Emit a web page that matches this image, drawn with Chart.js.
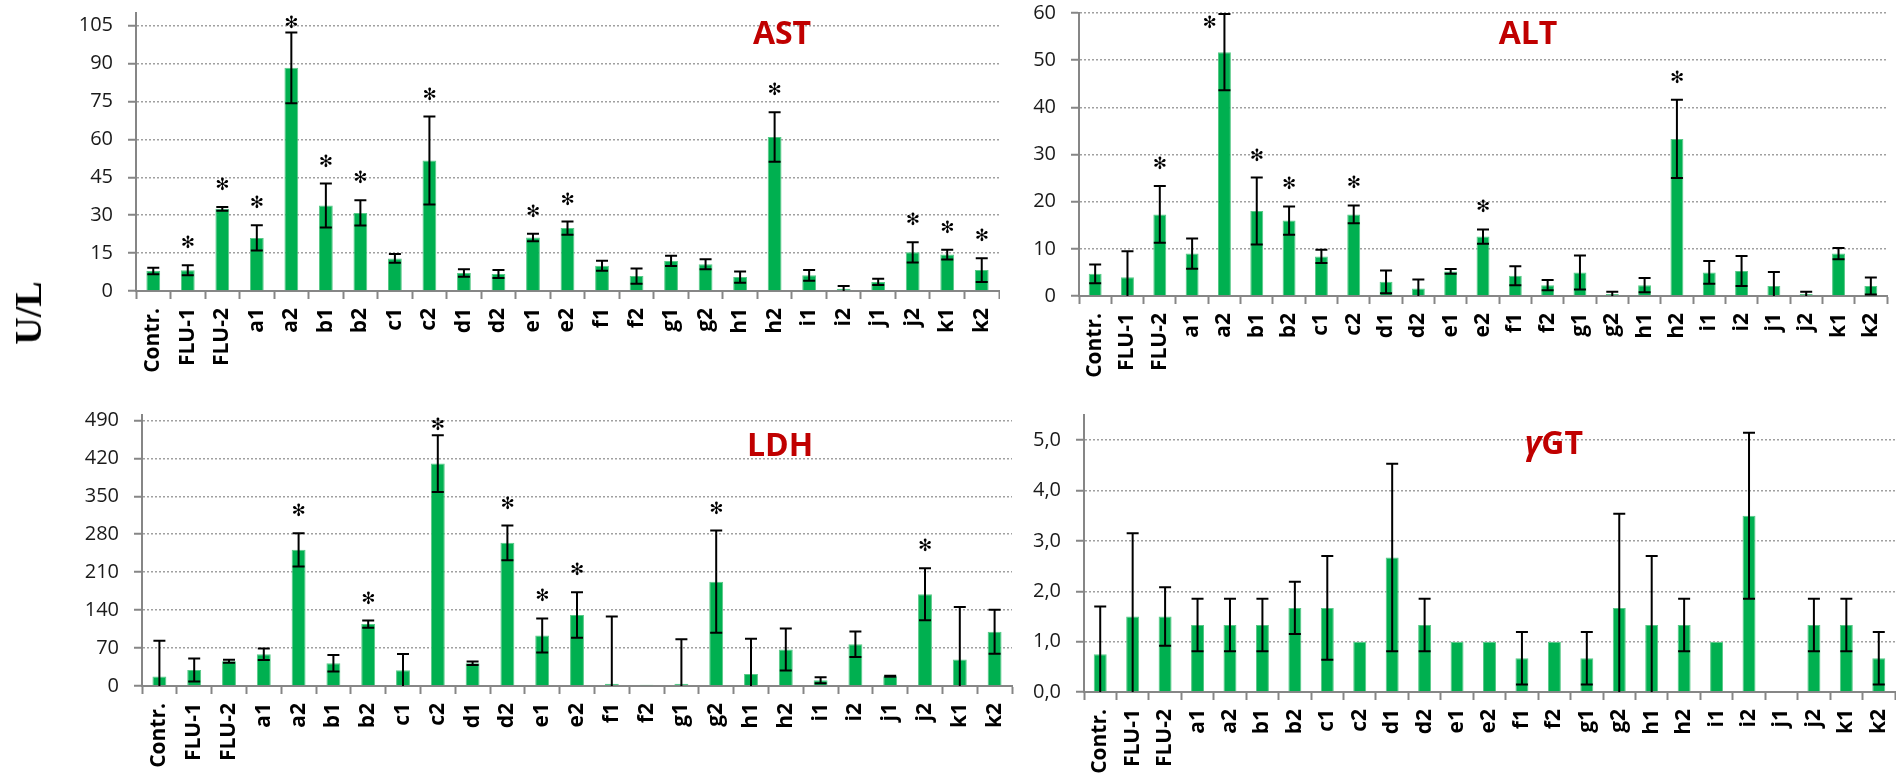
<!DOCTYPE html>
<html>
<head>
<meta charset="utf-8">
<title>Serum enzymes, U/L</title>
<script src="https://cdn.jsdelivr.net/npm/chart.js@4.4.1/dist/chart.umd.min.js"></script>
<style>
  html, body { margin: 0; padding: 0; background: #fff; }
  #wrap { position: relative; width: 1896px; height: 776px; overflow: hidden; background: #fff; }
  .panel { position: absolute; }
  #unit {
    position: absolute; left: 28px; top: 313px;
    transform: translate(-50%, -50%) rotate(-90deg);
    font-family: "Liberation Serif", serif; font-weight: bold; font-size: 38px;
    line-height: 1; color: #000; white-space: nowrap;
  }
</style>
</head>
<body>
<div id="wrap">
  <canvas id="ast" class="panel" style="left:0;top:0" width="1000" height="390"></canvas>
  <canvas id="alt" class="panel" style="left:1000px;top:0" width="896" height="390"></canvas>
  <canvas id="ldh" class="panel" style="left:0;top:390px" width="1020" height="386"></canvas>
  <canvas id="ggt" class="panel" style="left:1000px;top:390px" width="896" height="386"></canvas>
  <div id="unit">U/L</div>
</div>
<script>
// Groups (shared by all four panels)
const categories = ['Contr.', 'FLU-1', 'FLU-2', 'a1', 'a2', 'b1', 'b2', 'c1', 'c2', 'd1', 'd2',
  'e1', 'e2', 'f1', 'f2', 'g1', 'g2', 'h1', 'h2', 'i1', 'i2', 'j1', 'j2', 'k1', 'k2'];

// AST, U/L (mean, SD, groups marked *)
const astMean = [7.9, 8.2, 32.5, 21.0, 88.3, 33.8, 30.9, 12.9, 51.6, 7.1, 6.7,
  21.2, 24.9, 10.0, 5.9, 11.9, 10.6, 5.5, 60.9, 6.2, 0.9, 3.6, 15.3, 14.4, 8.3];
const astSd = [1.3, 2.0, 0.7, 5.0, 14.0, 8.7, 5.0, 1.7, 17.4, 1.5, 1.6,
  1.5, 2.6, 2.0, 3.0, 2.0, 2.0, 2.2, 9.8, 2.1, 1.1, 1.2, 4.0, 1.9, 4.7];
const astSig = ['FLU-1', 'FLU-2', 'a1', 'a2', 'b1', 'b2', 'c2', 'e1', 'e2', 'h2', 'j2', 'k1', 'k2'];
const astTicks = [0, 15, 30, 45, 60, 75, 90, 105];

// ALT, U/L
const altMean = [4.7, 4.0, 17.3, 9.0, 51.7, 18.0, 16.0, 8.4, 17.3, 3.0, 1.6,
  5.2, 12.6, 4.3, 2.3, 5.0, 0.4, 2.3, 33.3, 5.0, 5.3, 2.1, 0.4, 9.0, 2.1];
const altSd = [2.0, 5.5, 6.0, 3.2, 8.1, 7.1, 3.0, 1.4, 1.9, 2.4, 1.9,
  0.5, 1.5, 2.0, 1.1, 3.6, 0.5, 1.5, 8.3, 2.4, 3.2, 3.0, 0.5, 1.2, 1.8];
const altSig = ['FLU-2', 'a2', 'b1', 'b2', 'c2', 'e2', 'h2'];
const altTicks = [0, 10, 20, 30, 40, 50, 60];

// LDH, U/L
const ldhMean = [17.3, 29.6, 45.7, 58.6, 251.2, 42.0, 114.2, 29.0, 410.4, 42.0, 264.1,
  93.2, 130.8, 4.3, 2.5, 4.3, 192.5, 22.2, 67.3, 10.5, 77.1, 17.9, 169.1, 48.8, 100.0];
const ldhSd = [66, 21.3, 2.7, 10.8, 30.5, 15.4, 6.5, 30, 52.4, 3.1, 32,
  31.5, 42, 124, 0, 82, 94.4, 65, 38.6, 5.5, 23.5, 1, 48, 97, 40.7];
const ldhSig = ['a2', 'b2', 'c2', 'd2', 'e1', 'e2', 'g2', 'j2'];
const ldhTicks = [0, 70, 140, 210, 280, 350, 420, 490];

// gamma-GT, U/L
const ggtMean = [0.75, 1.5, 1.5, 1.33, 1.33, 1.33, 1.67, 1.67, 1.0, 2.67, 1.33,
  1.0, 1.0, 0.67, 1.0, 0.67, 1.67, 1.33, 1.33, 1.0, 3.5, 0, 1.33, 1.33, 0.67];
const ggtSd = [0.95, 1.65, 0.58, 0.52, 0.52, 0.52, 0.52, 1.03, 0, 1.86, 0.52,
  0, 0, 0.52, 0, 0.52, 1.87, 1.37, 0.52, 0, 1.65, 0, 0.52, 0.52, 0.52];
const ggtSig = [];
const ggtTicks = [0, 1, 2, 3, 4, 5];

const GREEN = '#00B050';
const AXIS = '#868686';
const GRID = '#a0a0a0';
const STAR = '\u273B';

// Error bars, significance stars and the in-plot panel title
const barExtras = {
  id: 'barExtras',
  afterDatasetsDraw(chart, args, o) {
    const { ctx, chartArea } = chart;
    const y = chart.scales.y;
    const meta = chart.getDatasetMeta(0);
    const vals = chart.data.datasets[0].data;
    ctx.save();
    ctx.strokeStyle = '#000';
    ctx.lineWidth = 2;
    meta.data.forEach((bar, i) => {
      const s = o.sd[i];
      if (!s) return;
      const m = vals[i];
      const low = m - s;
      const top = y.getPixelForValue(m + s);
      const bot = y.getPixelForValue(Math.max(low, 0));
      const x = bar.x;
      ctx.beginPath();
      ctx.moveTo(x, top); ctx.lineTo(x, bot);
      ctx.moveTo(x - o.cap, top); ctx.lineTo(x + o.cap, top);
      if (low > 0) { ctx.moveTo(x - o.cap, bot); ctx.lineTo(x + o.cap, bot); }
      ctx.stroke();
    });

    // star glyph scaled so its inked height is o.starSize px
    ctx.fillStyle = '#000';
    ctx.textAlign = 'center';
    ctx.textBaseline = 'alphabetic';
    ctx.font = '40px "DejaVu Sans"';
    let mt = ctx.measureText(STAR);
    const inked = mt.actualBoundingBoxAscent + mt.actualBoundingBoxDescent;
    const size = 40 * o.starSize / inked;
    ctx.font = size.toFixed(2) + 'px "DejaVu Sans"';
    mt = ctx.measureText(STAR);
    const shift = (mt.actualBoundingBoxAscent - mt.actualBoundingBoxDescent) / 2;
    chart.data.labels.forEach((lab, i) => {
      if (!o.sig.includes(lab)) return;
      const bar = meta.data[i];
      const errTop = y.getPixelForValue(vals[i] + (o.sd[i] || 0));
      let cy = errTop - o.starGap;
      let cx = bar.x;
      const minY = chartArea.top + 9;
      if (cy < minY) {
        cy = minY;
        if (errTop - cy < 10) cx -= 15;
      }
      ctx.fillText(STAR, cx, cy + shift);
    });
    ctx.restore();
  },
  afterDraw(chart, args, o) {
    const { ctx } = chart;
    ctx.save();
    ctx.fillStyle = '#C00000';
    ctx.textBaseline = 'alphabetic';
    ctx.textAlign = 'left';
    const main = 'bold 32px "Open Sans"';
    const lead = 'italic bold 32px "Open Sans"';
    ctx.font = main;
    const cap = ctx.measureText('T').actualBoundingBoxAscent;
    const base = o.ty + cap / 2;
    // an optional Greek prefix is set in italics
    const pre = o.titlePrefix || '';
    ctx.font = lead;
    const wPre = pre ? ctx.measureText(pre).width : 0;
    ctx.font = main;
    const wMain = ctx.measureText(o.title).width;
    let x = o.tx - (wPre + wMain) / 2;
    if (pre) {
      ctx.font = lead;
      ctx.fillText(pre, x, base);
      x += wPre;
      ctx.font = main;
    }
    ctx.fillText(o.title, x, base);
    ctx.restore();
  }
};

function makePanel(p) {
  return new Chart(document.getElementById(p.id), {
    type: 'bar',
    data: {
      labels: categories,
      datasets: [{
        data: p.mean,
        backgroundColor: GREEN,
        borderColor: '#58c987',
        borderWidth: 1,
        barPercentage: 0.4,
        categoryPercentage: 1.0
      }]
    },
    options: {
      responsive: false,
      animation: false,
      events: [],
      layout: { padding: { top: p.padTop, right: p.padRight, left: 0, bottom: 0 } },
      plugins: {
        legend: { display: false },
        tooltip: { enabled: false },
        barExtras: {
          sd: p.sd, sig: p.sig, cap: 6, starGap: 23, starSize: 13,
          title: p.title, titlePrefix: p.titlePrefix, tx: p.tx, ty: p.ty
        }
      },
      scales: {
        x: {
          offset: true,
          grid: {
            offset: true, drawOnChartArea: false, drawTicks: true,
            tickLength: 8, tickColor: AXIS, tickWidth: 2
          },
          border: { color: AXIS, width: 2 },
          ticks: {
            autoSkip: false, maxRotation: 90, minRotation: 90, padding: 9,
            color: '#000',
            font: { family: 'Open Sans', weight: 'bold', size: 21 }
          },
          afterFit(s) {
            s.height = p.xH;
            s.paddingLeft = 0; s.paddingRight = 0;
          }
        },
        y: {
          min: 0,
          max: p.max,
          afterBuildTicks(s) { s.ticks = p.ticks.map(v => ({ value: v })); },
          grid: {
            color: GRID, lineWidth: 1.5, drawTicks: true,
            tickLength: 8, tickColor: AXIS, tickWidth: 2
          },
          border: { color: AXIS, width: 2, dash: [2, 2] },
          ticks: {
            padding: 15, color: '#1a1a1a',
            font: { family: 'Open Sans', size: 20 },
            callback: v => p.dec ? v.toFixed(p.dec).replace('.', ',') : String(v)
          },
          afterFit(s) {
            s.width = p.yW;
            s.paddingTop = 0; s.paddingBottom = 0;
          }
        }
      }
    },
    plugins: [barExtras]
  });
}

makePanel({ id: 'ast', mean: astMean, sd: astSd, sig: astSig, ticks: astTicks, max: 110, dec: 0,
  yW: 136, xH: 99, padTop: 13, padRight: 1, title: 'AST', tx: 782, ty: 32 });
makePanel({ id: 'alt', mean: altMean, sd: altSd, sig: altSig, ticks: altTicks, max: 60, dec: 0,
  yW: 79, xH: 94, padTop: 13, padRight: 9, title: 'ALT', tx: 528, ty: 32 });
makePanel({ id: 'ldh', mean: ldhMean, sd: ldhSd, sig: ldhSig, ticks: ldhTicks, max: 500, dec: 0,
  yW: 142, xH: 90, padTop: 25, padRight: 8, title: 'LDH', tx: 780, ty: 54 });
makePanel({ id: 'ggt', mean: ggtMean, sd: ggtSd, sig: ggtSig, ticks: ggtTicks, max: 5.5, dec: 1,
  yW: 84, xH: 84, padTop: 25, padRight: 1, title: 'GT', titlePrefix: '\u03B3', tx: 554, ty: 52 });
</script>
</body>
</html>
